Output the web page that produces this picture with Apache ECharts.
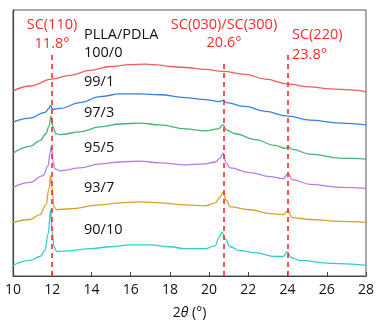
<!DOCTYPE html>
<html><head><meta charset="utf-8">
<script src="https://cdn.jsdelivr.net/npm/echarts@6/dist/echarts.min.js"></script>
<style>html,body{margin:0;padding:0;background:#fff}#c{width:391px;height:325px}</style>
</head><body><div id="c"></div>
<script>
const sampleNames = ["100/0","99/1","97/3","95/5","93/7","90/10"];
const lineColors = ["#f25c5c","#3d7ee6","#46b373","#b47ee6","#d6a326","#33cccc"];
// [2θ (°), intensity (a.u., offset stacked)]
const s100_0 = [[10.00,190],[10.87,195],[11.99,202],[12.91,206],[13.93,211],[14.95,215],[15.97,217],[16.73,217.5],[17.50,216.5],[18.01,215],[18.78,214],[19.80,212],[20.71,210],[21.84,207],[22.86,202],[24.03,197],[25.15,194],[26.17,192],[27.19,191],[28.00,189]];
const s99_1 = [[10.00,158],[10.87,162],[11.63,168],[11.84,172],[11.91,175],[12.04,171],[12.40,172],[13.42,178],[14.44,184],[15.46,187],[16.48,187],[17.50,186],[18.78,183],[19.80,181],[20.56,179],[20.71,180.5],[20.87,178],[21.84,174],[22.86,169],[24.03,164],[25.15,160],[26.68,157],[28.00,155]];
const s97_3 = [[10.00,126],[10.87,133],[11.38,139],[11.68,146],[11.84,154],[11.94,164],[12.04,153],[12.19,146],[12.40,145],[13.42,148],[14.44,153],[15.46,156],[16.48,157],[17.50,155],[18.78,151],[19.80,149],[20.46,151],[20.71,155],[20.87,150],[21.33,146],[22.35,140],[23.37,134],[23.88,131],[24.03,133],[24.23,130],[25.15,125],[26.68,121],[28.00,120]];
const s95_5 = [[10.00,91],[10.87,96],[11.53,103],[11.79,113],[11.89,126],[11.95,133],[12.04,118],[12.14,110],[12.40,108],[13.42,111],[14.44,115],[15.46,117],[16.48,118],[17.50,116],[18.78,114],[19.80,115],[20.31,117],[20.56,121],[20.71,126],[20.87,116],[21.07,111],[22.09,106],[23.11,102],[23.78,100],[24.03,105],[24.23,99],[25.15,94],[26.68,91],[28.00,90]];
const s93_7 = [[10.00,55],[10.87,58],[11.38,63],[11.68,73],[11.84,90],[11.92,103],[11.99,90],[12.09,71],[12.24,68],[12.91,69],[14.44,73],[15.46,75],[16.48,76],[17.50,75],[18.78,73],[19.80,72],[20.31,75],[20.56,81],[20.71,86],[20.87,78],[21.07,71],[22.09,68],[23.11,64],[23.78,63],[24.03,67],[24.23,60],[25.15,58],[26.68,56],[28.00,55]];
const s90_10 = [[10.00,11],[10.87,16],[11.38,20],[11.63,26],[11.79,43],[11.92,68],[11.99,46],[12.09,30],[12.24,25],[12.91,26],[13.93,28],[14.95,30],[15.97,32],[16.99,32],[18.01,30],[18.78,28],[19.80,28],[20.31,31],[20.51,40],[20.66,45],[20.82,38],[21.07,30],[21.58,26],[22.35,24],[23.37,20],[23.78,20],[23.98,25],[24.18,19],[24.64,16],[26.17,13],[28.00,11]];
const seriesData = [s100_0,s99_1,s97_3,s95_5,s93_7,s90_10];
// reference peak positions (where dashed lines are drawn) and their tops
const peakPos = [12.0, 20.75, 24.02];
const peakTop = [228, 221, 231];
const peakNames = ["SC(110)","SC(030)/SC(300)","SC(220)"];
const peakLabels = ["11.8°","20.6°","23.8°"];
const xTicks = [10,12,14,16,18,20,22,24,26,28];

const FONT = "'Open Sans', 'Noto Sans', sans-serif";
const chart = echarts.init(document.getElementById('c'), null, {renderer:'canvas'});
const series = seriesData.map((d,i)=>({
  type:'line', name: sampleNames[i], data:d, showSymbol:false, smooth:0.4, smoothMonotone:'x',
  lineStyle:{color:lineColors[i], width:1.3}, z:3, animation:false
}));
series.push({
  type:'line', data:[], silent:true, animation:false,
  markLine:{symbol:['none','none'], silent:true, animation:false, label:{show:false},
    lineStyle:{color:'#ff2a2a', type:[5,4], width:1.6},
    data: peakPos.map((p,i)=>[{coord:[p,0]},{coord:[p,peakTop[i]]}])}
});
const graphic = [];
const txt = (x,y,s,color,align)=>graphic.push({type:'text', x, y, style:{text:s, fill:color, font:`14.5px ${FONT}`, textAlign:align||'left', textVerticalAlign:'middle'}});
txt(52,25,peakNames[0],'#ff2a2a','center'); txt(52,44,peakLabels[0],'#ff2a2a','center');
txt(224,25,peakNames[1],'#ff2a2a','center'); txt(224,43,peakLabels[1],'#ff2a2a','center');
txt(292,35,peakNames[2],'#ff2a2a','left'); txt(292,55,peakLabels[2],'#ff2a2a','left');
txt(84,35,'PLLA/PDLA','#111');
const labelY = [53,82,113,148,188,230];
sampleNames.forEach((n,i)=>txt(84,labelY[i],n,'#111'));

chart.setOption({
  animation:false,
  grid:{left:13,right:25,top:10,bottom:42,show:true,borderColor:'#555',borderWidth:1},
  xAxis:{type:'value',min:10,max:28,interval:2,
    axisLine:{lineStyle:{color:'#444',width:1.2}},
    axisTick:{inside:true,length:4,lineStyle:{color:'#444'}},
    splitLine:{show:false},
    axisLabel:{color:'#111',fontSize:14,fontFamily:FONT,margin:7,
      formatter:v=>xTicks.includes(v)?String(v):''},
    name:'2{i|θ} (°)', nameLocation:'middle', nameGap:30,
    nameTextStyle:{color:'#111',fontSize:14,fontFamily:FONT,rich:{i:{fontStyle:'italic',fontSize:14,fontFamily:FONT,color:'#111'}}}
  },
  yAxis:{type:'value',min:0,max:273,axisLine:{show:true,lineStyle:{color:'#444',width:1.2}},
    axisTick:{show:false},axisLabel:{show:false},splitLine:{show:false}},
  series, graphic
});
</script></body></html>
